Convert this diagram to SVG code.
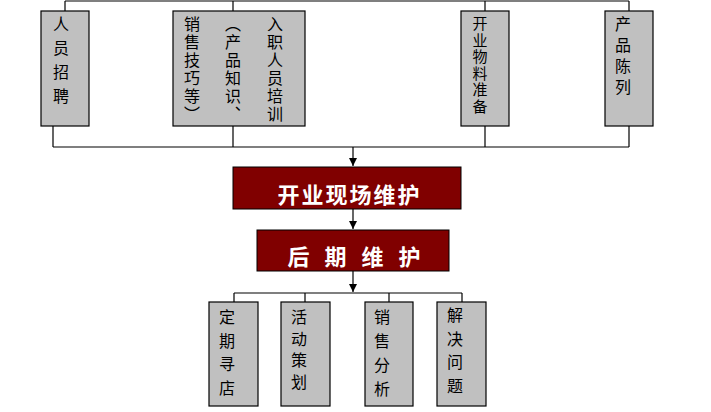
<svg xmlns="http://www.w3.org/2000/svg" width="711" height="412" viewBox="0 0 711 412">
<style>
.gbox{fill:#c0c0c0;stroke:#000;stroke-width:1.2}
.rbox{fill:#800000;stroke:#000;stroke-width:1}
.vt{font-family:"Noto Sans CJK SC","Noto Sans CJK JP",sans-serif;font-size:16px;fill:#000;writing-mode:vertical-rl}
.rt{font-family:"Noto Sans CJK SC","Noto Sans CJK JP",sans-serif;font-size:22px;font-weight:bold;fill:#fff;text-anchor:middle}
.ln{fill:none;stroke:#000;stroke-width:1.2}
</style>
<defs>
<marker id="ah" viewBox="0 0 10 10" refX="10" refY="5" markerWidth="8" markerHeight="8" markerUnits="userSpaceOnUse" orient="auto">
<path d="M0,0 L10,5 L0,10 Z" fill="#000"/>
</marker>
</defs>
<rect width="711" height="412" fill="#fff"/>
<g id="connectors">
<path class="ln" d="M65,1 H629 M65,1 V11 M233,1 V11 M485,1 V11 M629,1 V11"/>
<path class="ln" d="M53,126 V147 M233,126 V147 M485,126 V147 M629,126 V147 M53,147 H629"/>
<path class="ln" d="M353,147 V166" marker-end="url(#ah)"/>
<path class="ln" d="M353,209 V229" marker-end="url(#ah)"/>
<path class="ln" d="M353,271 V292" marker-end="url(#ah)"/>
<path class="ln" d="M234,293 H462 M234,293 V302 M305,293 V302 M389,293 V302 M462,293 V302"/>
</g>
<g id="n1"><rect class="gbox" x="41" y="11" width="48" height="115"/><text class="vt" x="61" y="16" style="letter-spacing:8px">人员招聘</text></g>
<g id="n2"><rect class="gbox" x="173" y="11" width="132" height="115"/>
<text class="vt" x="275" y="16" style="letter-spacing:2px">入职人员培训</text>
<text class="vt" x="233" y="16" style="letter-spacing:2px">（产品知识、</text>
<text class="vt" x="192" y="16" style="letter-spacing:2px">销售技巧等）</text></g>
<g id="n3"><rect class="gbox" x="461" y="11" width="48" height="115"/><text class="vt" x="480" y="16" style="font-size:15px;letter-spacing:1.5px">开业物料准备</text></g>
<g id="n4"><rect class="gbox" x="605" y="11" width="48" height="115"/><text class="vt" x="623" y="16" style="letter-spacing:5px">产品陈列</text></g>
<g id="n5"><rect class="rbox" x="233" y="167" width="228" height="42"/><text class="rt" x="349.5" y="203" style="letter-spacing:2px">开业现场维护</text></g>
<g id="n6"><rect class="rbox" x="257" y="230" width="192" height="41"/><text class="rt" x="356.5" y="265" style="letter-spacing:5px">后 期 维 护</text></g>
<g id="n7"><rect class="gbox" x="209" y="302" width="49" height="104"/><text class="vt" x="227" y="309" style="letter-spacing:7.5px">定期寻店</text></g>
<g id="n8"><rect class="gbox" x="281" y="302" width="49" height="104"/><text class="vt" x="299" y="309" style="letter-spacing:5.5px">活动策划</text></g>
<g id="n9"><rect class="gbox" x="365" y="302" width="48" height="104"/><text class="vt" x="382" y="309" style="letter-spacing:8px">销售分析</text></g>
<g id="n10"><rect class="gbox" x="437" y="302" width="49" height="104"/><text class="vt" x="455" y="307" style="letter-spacing:7.5px">解决问题</text></g>
</svg>
